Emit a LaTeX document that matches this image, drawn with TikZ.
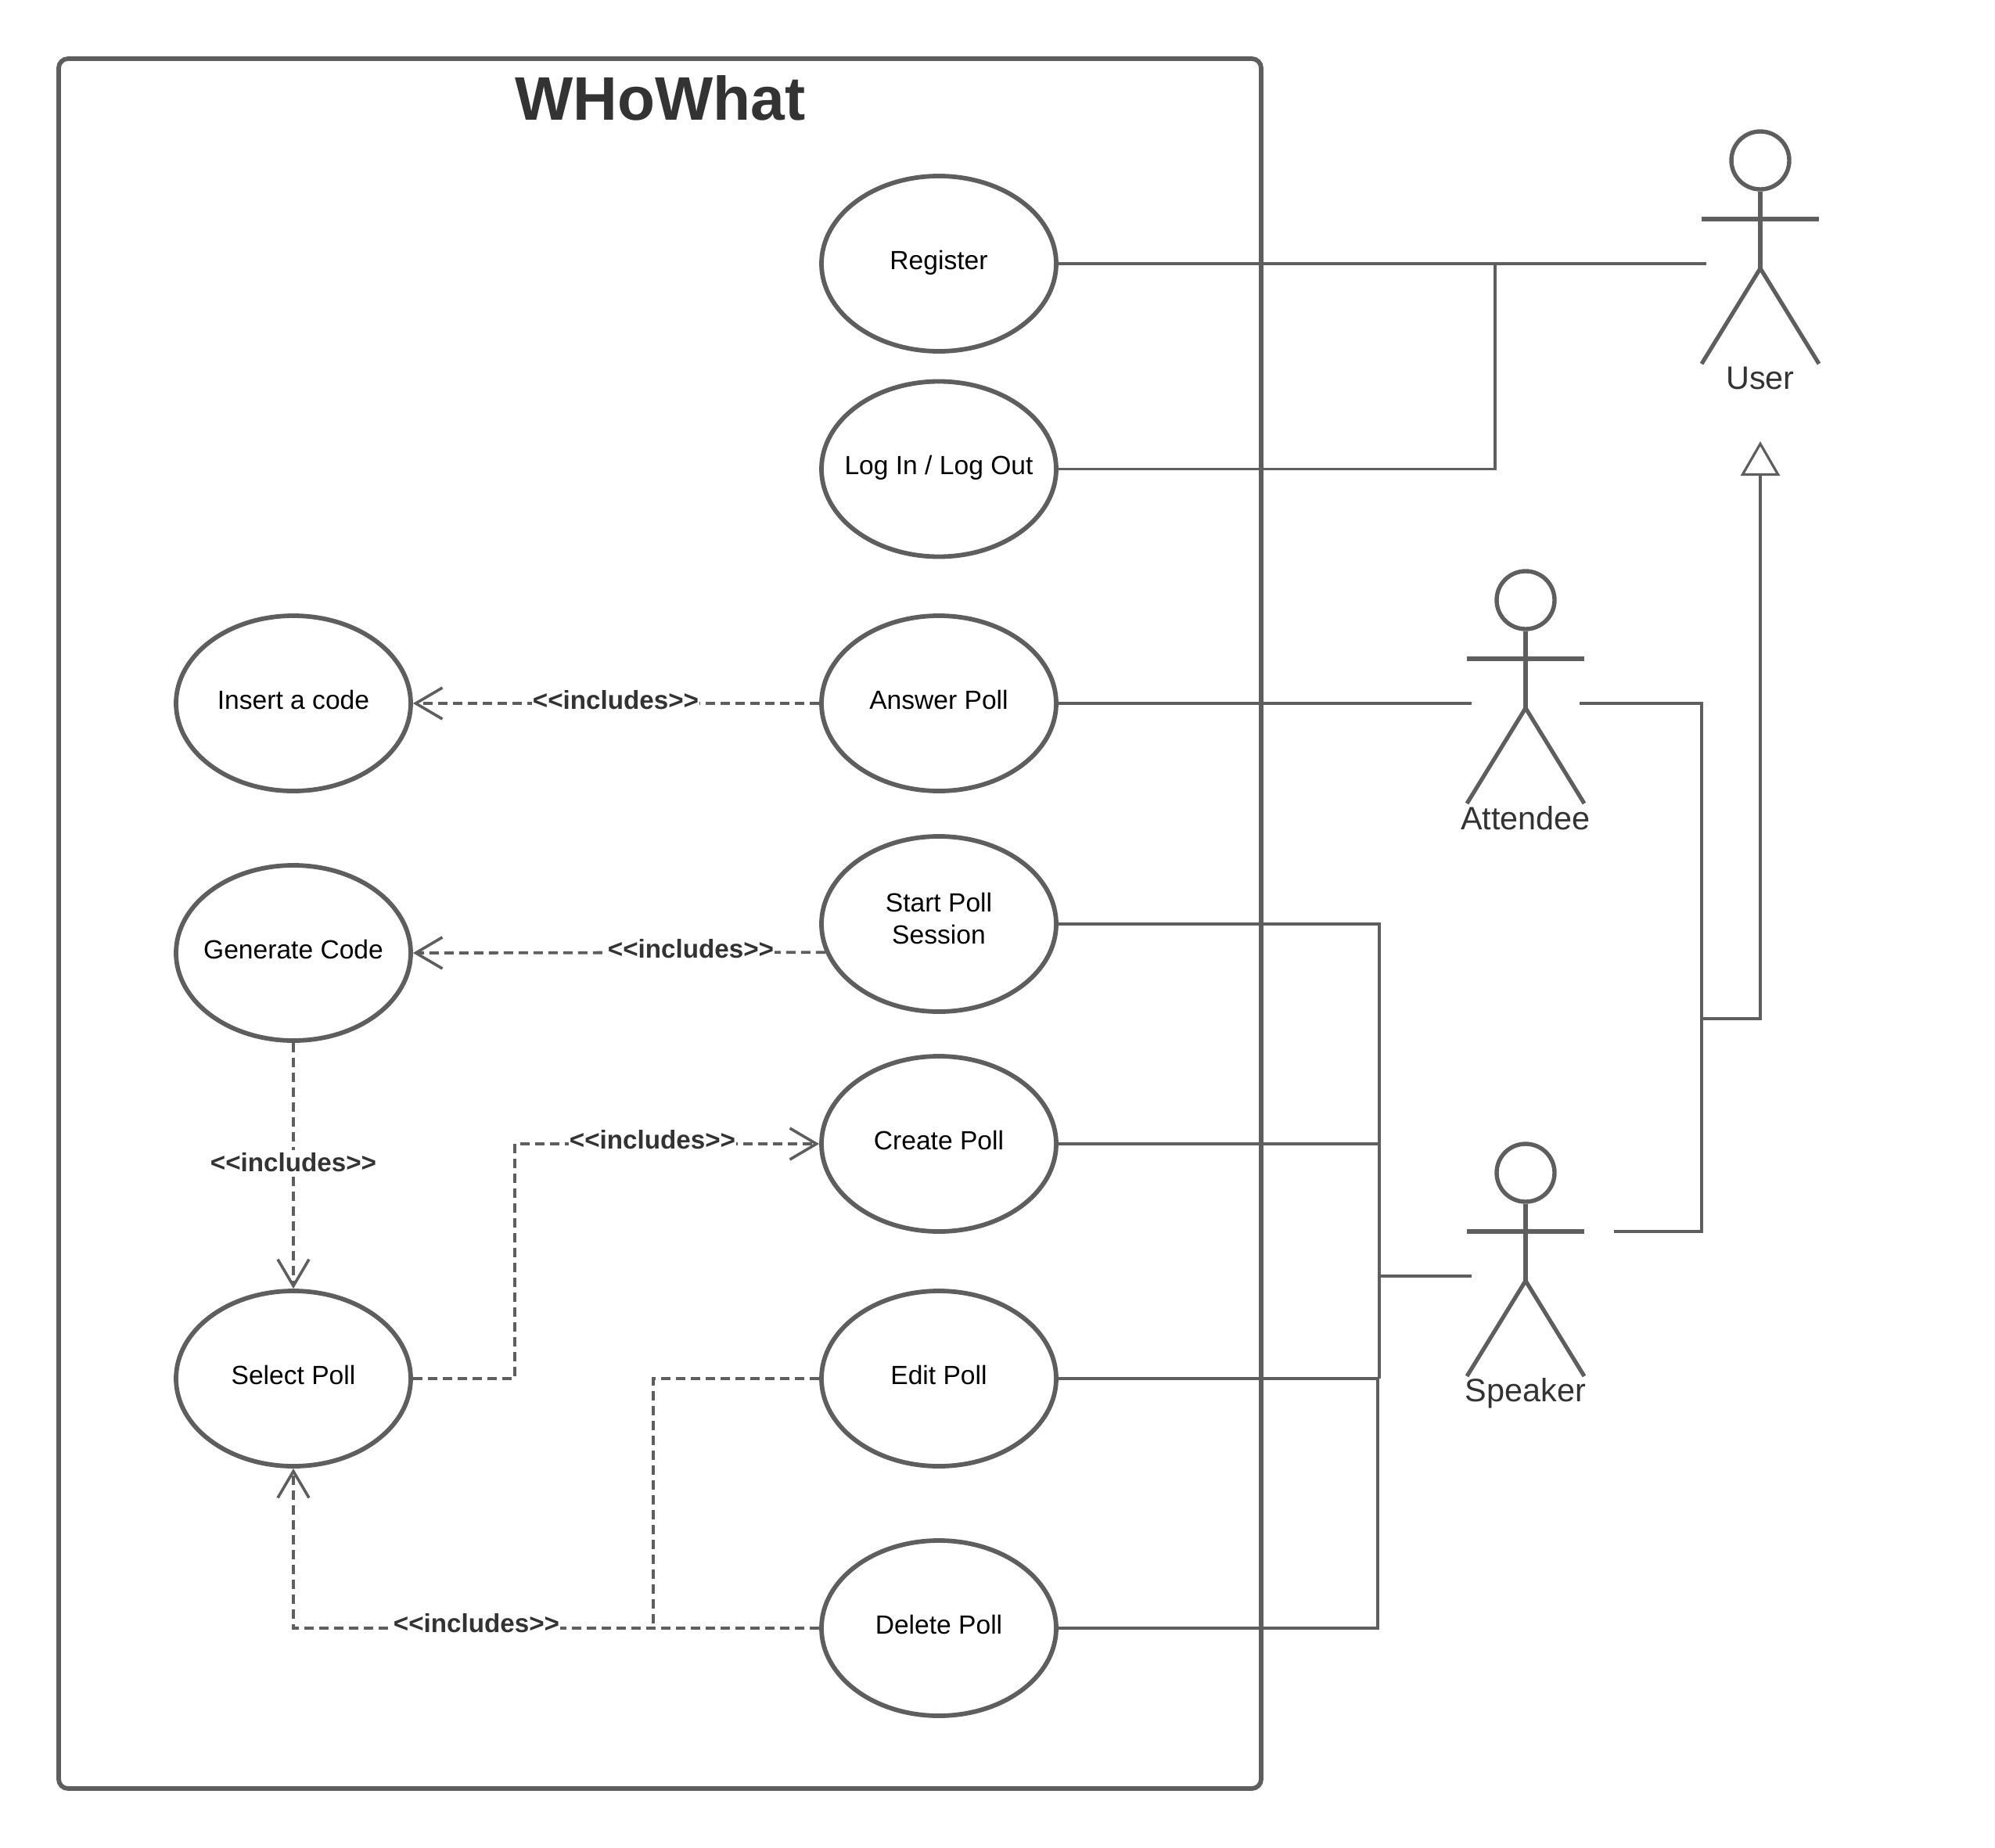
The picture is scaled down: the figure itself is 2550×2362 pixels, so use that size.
\documentclass[tikz,border=0pt]{standalone}
\usepackage{fontspec}
\setmainfont{Liberation Sans}
\usetikzlibrary{arrows.meta,shapes.geometric,calc}
\definecolor{ln}{HTML}{5E5E5E}
\definecolor{tx}{HTML}{333333}
\tikzset{
  usecase/.style={draw=ln,line width=2.9pt,ellipse,minimum width=150pt,minimum height=112pt,inner sep=0pt,fill=white,text=black,font=\fontsize{16.8}{20.3}\selectfont},
  frameb/.style={draw=ln,line width=2.9pt,rounded corners=6pt},
  solidc/.style={draw=ln,line width=1.8pt},
  dashc/.style={draw=ln,line width=1.9pt,dash pattern=on 6pt off 3.5pt},
  opentip/.style={-{Straight Barb[length=17pt,width=20pt,line width=1.8pt]}},
  gentip/.style={-{Triangle[open,length=22pt,width=25pt,line width=1.6pt]}},
  inclabel/.style={fill=white,text=tx,inner xsep=0.5pt,inner ysep=2pt,font=\fontsize{16.6}{18}\selectfont\bfseries},
  actorlabel/.style={text=tx,font=\fontsize{20.7}{24}\selectfont,inner sep=0pt},
  head/.style={draw=ln,line width=2.7pt,circle,minimum size=37pt,inner sep=0pt},
  limb/.style={draw=ln,line width=2.6pt,line join=round},
}
\newcommand{\ucraise}[2][-3.6pt]{\smash{\raisebox{#1}{\makebox[0pt][c]{#2}}}}
% \myactor{name}{x}{y of head centre}{label}{label y}
\newcommand{\myactor}[5]{%
  \node[head] (#1h) at (#2,#3) {};
  \draw[limb] (#1h.south) -- ++(0,98);
  \draw[limb] ($(#1h.center)+(-75,75)$) -- ($(#1h.center)+(75,75)$);
  \draw[limb] ($(#1h.center)+(-75,260)$) -- ($(#1h.center)+(0,138)$) -- ($(#1h.center)+(75,260)$);
  \node[actorlabel] (#1) at (#2,#5) {#4};
}
\begin{document}
\begin{tikzpicture}[x=0.5pt,y=-0.5pt]
\useasboundingbox (0,0) rectangle (2550,2362);
\fill[white] (0,0) rectangle (2550,2362);
% frame
\node[inner sep=0pt,text=tx,font=\fontsize{39.3}{44}\selectfont\bfseries] (title) at (844,125) {WHoWhat};
\coordinate (fa) at (75,75);
\coordinate (fb) at (1612,2286);
\draw[frameb] (fa) rectangle (fb);
% use cases
\node[usecase] (register) at (1200,337) {\ucraise{Register}};
\node[usecase] (login) at (1200,599.5) {\ucraise{Log In / Log Out}};
\node[usecase] (answer) at (1200,899) {\ucraise{Answer Poll}};
\node[usecase] (start) at (1200,1181) {\ucraise[-2.8pt]{\begin{tabular}{@{}c@{}}Start Poll\\Session\end{tabular}}};
\node[usecase] (create) at (1200,1462) {\ucraise{Create Poll}};
\node[usecase] (edit) at (1200,1762) {\ucraise{Edit Poll}};
\node[usecase] (delete) at (1200,2081) {\ucraise{Delete Poll}};
\node[usecase] (insert) at (375,899) {\ucraise{Insert a code}};
\node[usecase] (generate) at (375,1218) {\ucraise{Generate Code}};
\node[usecase] (select) at (375,1762) {\ucraise{Select Poll}};
% actors
\myactor{user}{2250}{205}{User}{483}
\myactor{attendee}{1950}{767}{Attendee}{1046}
\myactor{speaker}{1950}{1499}{Speaker}{1781}
% free ends
\coordinate (userend) at (2181,337);
\coordinate (loginbend) at (1911,337);
\coordinate (attL) at (1881,899);
\coordinate (attR) at (2019,899);
\coordinate (spkL) at (1881,1631);
\coordinate (spkR) at (2063,1574);
\coordinate (busA) at (1763,1631);
\coordinate (busB) at (1761,2081);
\coordinate (genbusT) at (2175,899);
\coordinate (genbusB) at (2175,1574);
\coordinate (genj) at (2175,1302);
\coordinate (genk) at (2250,1302);
\coordinate (userbase) at (2250,564);
\coordinate (bendS) at (658,1462);
\coordinate (bendE) at (835,1762);
% solid associations
\draw[solidc] (register.east) -- (userend);
\draw[solidc] (login.east) -| (loginbend);
\draw[solidc] (answer.east) -- (attL);
\draw[solidc] (attR) -- (genbusT) -- (genbusB) -- (spkR);
\draw[solidc,gentip] (genj) -- (genk) -- (userbase);
\draw[solidc] (start.east) -| (1763,1762);
\draw[solidc] (create.east) -- (create.east -| busA);
\draw[solidc] (busA) -- (spkL);
\draw[solidc] (edit.east) -- (edit.east -| busB);
\draw[solidc] (delete.east) -| (1761,1762);
% dashed includes
\draw[dashc,opentip] (answer.west) -- (insert.east);
\draw[dashc,opentip] (start.194.5) -- (generate.east);
\draw[dashc,opentip] (generate.south) -- (select.north);
\draw[dashc,opentip] (select.east) -- (bendS |- select.east) -- (bendS) -- (create.west);
\draw[dashc] (edit.west) -- (bendE) -- (bendE |- delete.west);
\draw[dashc,opentip] (delete.west) -| (select.south);
% labels
\node[inclabel] (l1) at (787,895) {<{}<includes>{}>};
\node[inclabel] (l2) at (883,1213) {<{}<includes>{}>};
\node[inclabel] (l3) at (834,1457) {<{}<includes>{}>};
\node[inclabel] (l4) at (375,1486) {<{}<includes>{}>};
\node[inclabel] (l5) at (609,2075) {<{}<includes>{}>};
\end{tikzpicture}
\end{document}
